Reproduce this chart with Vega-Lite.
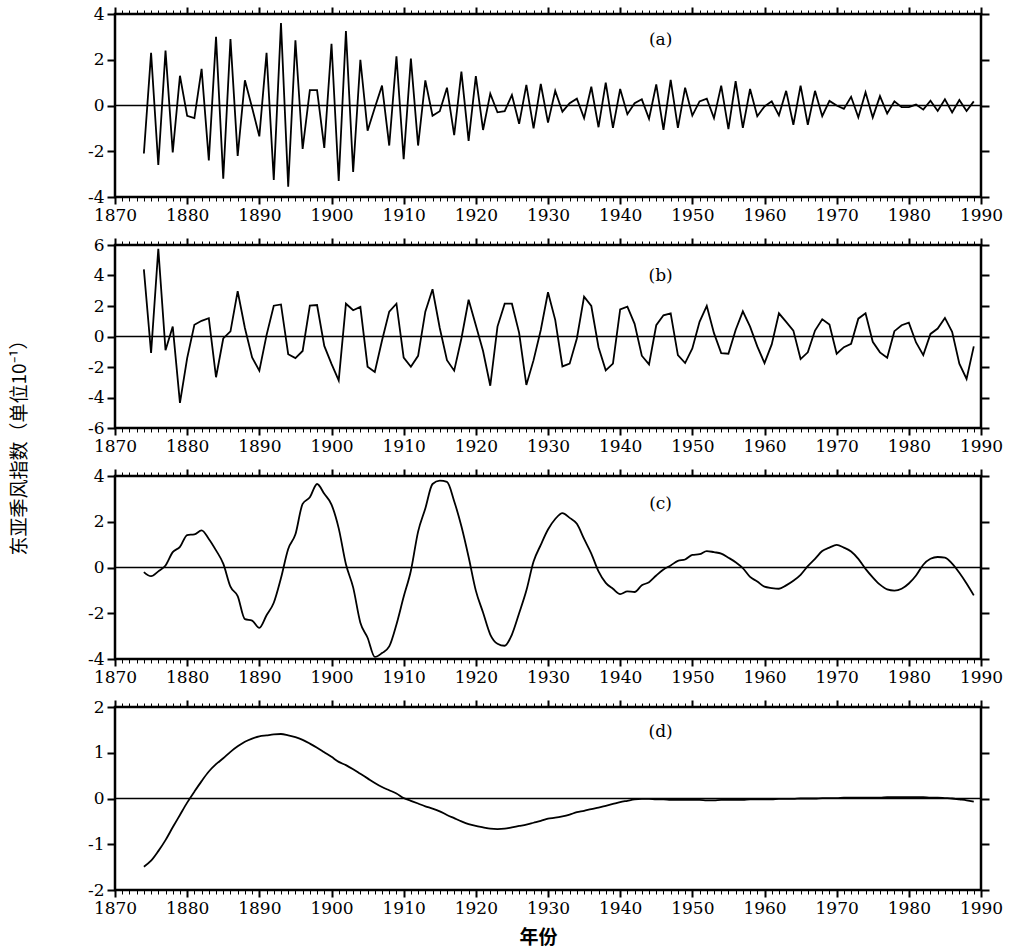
{
"$schema": "https://vega.github.io/schema/vega-lite/v6.json",
"padding": {"left": 11, "top": 3, "right": 5, "bottom": 5},
"background": "white",
"bounds": "flush",
"spacing": 48,
"title": {"text": "东亚季风指数（单位10⁻¹）", "orient": "left", "anchor": "middle", "font": "Noto Sans CJK SC", "fontSize": 19, "fontWeight": "normal", "color": "black", "offset": 56, "dx": 33},
"config": {
  "view": {"stroke": "black", "strokeWidth": 2.5},
  "axis": {"labelFont": "DejaVu Serif", "labelFontSize": 17, "labelColor": "black", "tickColor": "black", "domain": false, "grid": false, "ticks": true, "title": null, "labelFlush": false, "labelOverlap": false}
},
"datasets": {
"a": [
{"year":1874,"v":-2.1},{"year":1875,"v":2.3},{"year":1876,"v":-2.6},{"year":1877,"v":2.4},{"year":1878,"v":-2.05},{"year":1879,"v":1.3},{"year":1880,"v":-0.45},{"year":1881,"v":-0.55},{"year":1882,"v":1.6},{"year":1883,"v":-2.4},{"year":1884,"v":3.0},{"year":1885,"v":-3.2},{"year":1886,"v":2.9},{"year":1887,"v":-2.2},{"year":1888,"v":1.1},{"year":1889,"v":-0.1},{"year":1890,"v":-1.35},{"year":1891,"v":2.3},{"year":1892,"v":-3.25},{"year":1893,"v":3.6},{"year":1894,"v":-3.55},{"year":1895,"v":2.85},{"year":1896,"v":-1.9},{"year":1897,"v":0.67},{"year":1898,"v":0.67},{"year":1899,"v":-1.85},{"year":1900,"v":2.7},{"year":1901,"v":-3.3},{"year":1902,"v":3.25},{"year":1903,"v":-2.9},{"year":1904,"v":2.0},{"year":1905,"v":-1.1},{"year":1906,"v":-0.1},{"year":1907,"v":0.87},{"year":1908,"v":-1.75},{"year":1909,"v":2.15},{"year":1910,"v":-2.35},{"year":1911,"v":2.05},{"year":1912,"v":-1.75},{"year":1913,"v":1.1},{"year":1914,"v":-0.45},{"year":1915,"v":-0.25},{"year":1916,"v":0.78},{"year":1917,"v":-1.3},{"year":1918,"v":1.48},{"year":1919,"v":-1.55},{"year":1920,"v":1.28},{"year":1921,"v":-1.07},{"year":1922,"v":0.52},{"year":1923,"v":-0.3},{"year":1924,"v":-0.25},{"year":1925,"v":0.46},{"year":1926,"v":-0.8},{"year":1927,"v":0.9},{"year":1928,"v":-1.0},{"year":1929,"v":0.94},{"year":1930,"v":-0.75},{"year":1931,"v":0.64},{"year":1932,"v":-0.27},{"year":1933,"v":0.1},{"year":1934,"v":0.3},{"year":1935,"v":-0.55},{"year":1936,"v":0.82},{"year":1937,"v":-0.95},{"year":1938,"v":1.0},{"year":1939,"v":-0.98},{"year":1940,"v":0.72},{"year":1941,"v":-0.38},{"year":1942,"v":0.1},{"year":1943,"v":0.27},{"year":1944,"v":-0.58},{"year":1945,"v":0.92},{"year":1946,"v":-1.06},{"year":1947,"v":1.12},{"year":1948,"v":-0.98},{"year":1949,"v":0.78},{"year":1950,"v":-0.44},{"year":1951,"v":0.18},{"year":1952,"v":0.3},{"year":1953,"v":-0.55},{"year":1954,"v":0.87},{"year":1955,"v":-1.03},{"year":1956,"v":1.06},{"year":1957,"v":-0.98},{"year":1958,"v":0.72},{"year":1959,"v":-0.47},{"year":1960,"v":-0.04},{"year":1961,"v":0.18},{"year":1962,"v":-0.43},{"year":1963,"v":0.64},{"year":1964,"v":-0.84},{"year":1965,"v":0.87},{"year":1966,"v":-0.84},{"year":1967,"v":0.64},{"year":1968,"v":-0.47},{"year":1969,"v":0.2},{"year":1970,"v":0},{"year":1971,"v":-0.15},{"year":1972,"v":0.38},{"year":1973,"v":-0.52},{"year":1974,"v":0.58},{"year":1975,"v":-0.52},{"year":1976,"v":0.41},{"year":1977,"v":-0.35},{"year":1978,"v":0.18},{"year":1979,"v":-0.07},{"year":1980,"v":-0.07},{"year":1981,"v":0.04},{"year":1982,"v":-0.18},{"year":1983,"v":0.21},{"year":1984,"v":-0.24},{"year":1985,"v":0.27},{"year":1986,"v":-0.3},{"year":1987,"v":0.24},{"year":1988,"v":-0.24},{"year":1989,"v":0.18}
],
"b": [
{"year":1874,"v":4.4},{"year":1875,"v":-1.08},{"year":1876,"v":5.75},{"year":1877,"v":-0.9},{"year":1878,"v":0.65},{"year":1879,"v":-4.35},{"year":1880,"v":-1.42},{"year":1881,"v":0.77},{"year":1882,"v":1.03},{"year":1883,"v":1.2},{"year":1884,"v":-2.67},{"year":1885,"v":-0.13},{"year":1886,"v":0.34},{"year":1887,"v":2.97},{"year":1888,"v":0.56},{"year":1889,"v":-1.38},{"year":1890,"v":-2.24},{"year":1891,"v":0.09},{"year":1892,"v":2.02},{"year":1893,"v":2.1},{"year":1894,"v":-1.16},{"year":1895,"v":-1.42},{"year":1896,"v":-0.95},{"year":1897,"v":2.02},{"year":1898,"v":2.06},{"year":1899,"v":-0.62},{"year":1900,"v":-1.8},{"year":1901,"v":-2.88},{"year":1902,"v":2.15},{"year":1903,"v":1.72},{"year":1904,"v":1.94},{"year":1905,"v":-1.98},{"year":1906,"v":-2.32},{"year":1907,"v":-0.26},{"year":1908,"v":1.63},{"year":1909,"v":2.15},{"year":1910,"v":-1.38},{"year":1911,"v":-1.98},{"year":1912,"v":-1.27},{"year":1913,"v":1.63},{"year":1914,"v":3.1},{"year":1915,"v":0.56},{"year":1916,"v":-1.55},{"year":1917,"v":-2.24},{"year":1918,"v":-0.13},{"year":1919,"v":2.41},{"year":1920,"v":0.73},{"year":1921,"v":-0.95},{"year":1922,"v":-3.23},{"year":1923,"v":0.65},{"year":1924,"v":2.15},{"year":1925,"v":2.15},{"year":1926,"v":0.24},{"year":1927,"v":-3.18},{"year":1928,"v":-1.55},{"year":1929,"v":0.43},{"year":1930,"v":2.9},{"year":1931,"v":1.09},{"year":1932,"v":-1.96},{"year":1933,"v":-1.78},{"year":1934,"v":-0.13},{"year":1935,"v":2.61},{"year":1936,"v":2.0},{"year":1937,"v":-0.7},{"year":1938,"v":-2.22},{"year":1939,"v":-1.78},{"year":1940,"v":1.78},{"year":1941,"v":1.96},{"year":1942,"v":0.83},{"year":1943,"v":-1.26},{"year":1944,"v":-1.83},{"year":1945,"v":0.74},{"year":1946,"v":1.39},{"year":1947,"v":1.52},{"year":1948,"v":-1.22},{"year":1949,"v":-1.74},{"year":1950,"v":-0.78},{"year":1951,"v":0.96},{"year":1952,"v":2.0},{"year":1953,"v":0.22},{"year":1954,"v":-1.09},{"year":1955,"v":-1.13},{"year":1956,"v":0.43},{"year":1957,"v":1.65},{"year":1958,"v":0.65},{"year":1959,"v":-0.65},{"year":1960,"v":-1.74},{"year":1961,"v":-0.52},{"year":1962,"v":1.52},{"year":1963,"v":0.96},{"year":1964,"v":0.39},{"year":1965,"v":-1.48},{"year":1966,"v":-1.04},{"year":1967,"v":0.39},{"year":1968,"v":1.13},{"year":1969,"v":0.78},{"year":1970,"v":-1.13},{"year":1971,"v":-0.7},{"year":1972,"v":-0.48},{"year":1973,"v":1.17},{"year":1974,"v":1.52},{"year":1975,"v":-0.35},{"year":1976,"v":-1.04},{"year":1977,"v":-1.39},{"year":1978,"v":0.35},{"year":1979,"v":0.74},{"year":1980,"v":0.91},{"year":1981,"v":-0.39},{"year":1982,"v":-1.22},{"year":1983,"v":0.17},{"year":1984,"v":0.52},{"year":1985,"v":1.22},{"year":1986,"v":0.3},{"year":1987,"v":-1.78},{"year":1988,"v":-2.78},{"year":1989,"v":-0.65}
],
"c": [
{"year":1874,"v":-0.2},{"year":1875,"v":-0.38},{"year":1876,"v":-0.17},{"year":1877,"v":0.09},{"year":1878,"v":0.67},{"year":1879,"v":0.9},{"year":1880,"v":1.42},{"year":1881,"v":1.45},{"year":1882,"v":1.62},{"year":1883,"v":1.25},{"year":1884,"v":0.75},{"year":1885,"v":0.17},{"year":1886,"v":-0.84},{"year":1887,"v":-1.25},{"year":1888,"v":-2.26},{"year":1889,"v":-2.32},{"year":1890,"v":-2.64},{"year":1891,"v":-2.09},{"year":1892,"v":-1.54},{"year":1893,"v":-0.46},{"year":1894,"v":0.81},{"year":1895,"v":1.45},{"year":1896,"v":2.78},{"year":1897,"v":3.07},{"year":1898,"v":3.65},{"year":1899,"v":3.22},{"year":1900,"v":2.75},{"year":1901,"v":1.71},{"year":1902,"v":0.14},{"year":1903,"v":-0.87},{"year":1904,"v":-2.41},{"year":1905,"v":-3.07},{"year":1906,"v":-3.91},{"year":1907,"v":-3.74},{"year":1908,"v":-3.45},{"year":1909,"v":-2.49},{"year":1910,"v":-1.28},{"year":1911,"v":-0.14},{"year":1912,"v":1.57},{"year":1913,"v":2.58},{"year":1914,"v":3.65},{"year":1915,"v":3.8},{"year":1916,"v":3.74},{"year":1917,"v":2.9},{"year":1918,"v":1.8},{"year":1919,"v":0.46},{"year":1920,"v":-1.01},{"year":1921,"v":-1.97},{"year":1922,"v":-2.93},{"year":1923,"v":-3.33},{"year":1924,"v":-3.42},{"year":1925,"v":-2.93},{"year":1926,"v":-2.0},{"year":1927,"v":-1.01},{"year":1928,"v":0.26},{"year":1929,"v":0.99},{"year":1930,"v":1.66},{"year":1931,"v":2.12},{"year":1932,"v":2.38},{"year":1933,"v":2.17},{"year":1934,"v":1.91},{"year":1935,"v":1.25},{"year":1936,"v":0.61},{"year":1937,"v":-0.17},{"year":1938,"v":-0.67},{"year":1939,"v":-0.93},{"year":1940,"v":-1.16},{"year":1941,"v":-1.04},{"year":1942,"v":-1.07},{"year":1943,"v":-0.78},{"year":1944,"v":-0.64},{"year":1945,"v":-0.35},{"year":1946,"v":-0.09},{"year":1947,"v":0.09},{"year":1948,"v":0.29},{"year":1949,"v":0.35},{"year":1950,"v":0.55},{"year":1951,"v":0.58},{"year":1952,"v":0.72},{"year":1953,"v":0.67},{"year":1954,"v":0.61},{"year":1955,"v":0.43},{"year":1956,"v":0.23},{"year":1957,"v":-0.03},{"year":1958,"v":-0.41},{"year":1959,"v":-0.61},{"year":1960,"v":-0.84},{"year":1961,"v":-0.9},{"year":1962,"v":-0.93},{"year":1963,"v":-0.78},{"year":1964,"v":-0.58},{"year":1965,"v":-0.32},{"year":1966,"v":0.06},{"year":1967,"v":0.38},{"year":1968,"v":0.72},{"year":1969,"v":0.87},{"year":1970,"v":0.99},{"year":1971,"v":0.87},{"year":1972,"v":0.7},{"year":1973,"v":0.38},{"year":1974,"v":-0.06},{"year":1975,"v":-0.43},{"year":1976,"v":-0.75},{"year":1977,"v":-0.96},{"year":1978,"v":-1.01},{"year":1979,"v":-0.93},{"year":1980,"v":-0.7},{"year":1981,"v":-0.35},{"year":1982,"v":0.12},{"year":1983,"v":0.38},{"year":1984,"v":0.46},{"year":1985,"v":0.43},{"year":1986,"v":0.17},{"year":1987,"v":-0.23},{"year":1988,"v":-0.7},{"year":1989,"v":-1.22}
],
"d": [
{"year":1874,"v":-1.49},{"year":1875,"v":-1.36},{"year":1876,"v":-1.15},{"year":1877,"v":-0.91},{"year":1878,"v":-0.63},{"year":1879,"v":-0.36},{"year":1880,"v":-0.09},{"year":1881,"v":0.15},{"year":1882,"v":0.38},{"year":1883,"v":0.59},{"year":1884,"v":0.75},{"year":1885,"v":0.88},{"year":1886,"v":1.02},{"year":1887,"v":1.14},{"year":1888,"v":1.24},{"year":1889,"v":1.31},{"year":1890,"v":1.36},{"year":1891,"v":1.38},{"year":1892,"v":1.4},{"year":1893,"v":1.41},{"year":1894,"v":1.38},{"year":1895,"v":1.34},{"year":1896,"v":1.28},{"year":1897,"v":1.2},{"year":1898,"v":1.11},{"year":1899,"v":1.01},{"year":1900,"v":0.91},{"year":1901,"v":0.8},{"year":1902,"v":0.73},{"year":1903,"v":0.64},{"year":1904,"v":0.54},{"year":1905,"v":0.44},{"year":1906,"v":0.34},{"year":1907,"v":0.25},{"year":1908,"v":0.18},{"year":1909,"v":0.11},{"year":1910,"v":0.01},{"year":1911,"v":-0.05},{"year":1912,"v":-0.11},{"year":1913,"v":-0.17},{"year":1914,"v":-0.22},{"year":1915,"v":-0.28},{"year":1916,"v":-0.36},{"year":1917,"v":-0.43},{"year":1918,"v":-0.5},{"year":1919,"v":-0.56},{"year":1920,"v":-0.6},{"year":1921,"v":-0.63},{"year":1922,"v":-0.66},{"year":1923,"v":-0.67},{"year":1924,"v":-0.66},{"year":1925,"v":-0.63},{"year":1926,"v":-0.6},{"year":1927,"v":-0.57},{"year":1928,"v":-0.53},{"year":1929,"v":-0.49},{"year":1930,"v":-0.44},{"year":1931,"v":-0.42},{"year":1932,"v":-0.39},{"year":1933,"v":-0.35},{"year":1934,"v":-0.3},{"year":1935,"v":-0.27},{"year":1936,"v":-0.23},{"year":1937,"v":-0.2},{"year":1938,"v":-0.16},{"year":1939,"v":-0.12},{"year":1940,"v":-0.08},{"year":1941,"v":-0.05},{"year":1942,"v":-0.02},{"year":1943,"v":-0.01},{"year":1944,"v":-0.01},{"year":1945,"v":-0.02},{"year":1946,"v":-0.02},{"year":1947,"v":-0.03},{"year":1948,"v":-0.03},{"year":1949,"v":-0.03},{"year":1950,"v":-0.03},{"year":1951,"v":-0.03},{"year":1952,"v":-0.04},{"year":1953,"v":-0.04},{"year":1954,"v":-0.03},{"year":1955,"v":-0.03},{"year":1956,"v":-0.03},{"year":1957,"v":-0.03},{"year":1958,"v":-0.02},{"year":1959,"v":-0.02},{"year":1960,"v":-0.02},{"year":1961,"v":-0.02},{"year":1962,"v":-0.01},{"year":1963,"v":-0.01},{"year":1964,"v":-0.01},{"year":1965,"v":0},{"year":1966,"v":0},{"year":1967,"v":0},{"year":1968,"v":0.01},{"year":1969,"v":0.01},{"year":1970,"v":0.01},{"year":1971,"v":0.02},{"year":1972,"v":0.02},{"year":1973,"v":0.02},{"year":1974,"v":0.02},{"year":1975,"v":0.02},{"year":1976,"v":0.02},{"year":1977,"v":0.03},{"year":1978,"v":0.03},{"year":1979,"v":0.03},{"year":1980,"v":0.03},{"year":1981,"v":0.03},{"year":1982,"v":0.03},{"year":1983,"v":0.02},{"year":1984,"v":0.02},{"year":1985,"v":0.01},{"year":1986,"v":0},{"year":1987,"v":-0.02},{"year":1988,"v":-0.04},{"year":1989,"v":-0.07}
]
},
"vconcat": [
{
 "width": 866, "height": 183,
 "data": {"name": "a"},
 "resolve": {"axis": {"x": "independent", "y": "independent"}},
 "layer": [
  {"mark": {"type": "line", "color": "black", "strokeWidth": 1.8},
   "encoding": {
    "x": {"field": "year", "type": "quantitative", "scale": {"domain": [1870, 1990], "nice": false}, "axis": {"orient": "bottom", "tickCount": 120, "labelExpr": "datum.value % 10 === 0 ? '' + datum.value : ''", "labelPadding": 3, "tickSize": {"condition": {"test": "datum.value % 10 === 0", "value": 7}, "value": 4}, "tickWidth": {"condition": {"test": "datum.value % 10 === 0", "value": 2}, "value": 1}}},
    "y": {"field": "v", "type": "quantitative", "scale": {"domain": [-4, 4], "nice": false}, "axis": {"orient": "left", "values": [-4,-2,0,2,4], "tickSize": 8, "tickWidth": 2, "labelPadding": 3, "labelExpr": "'' + datum.value"}}}},
  {"mark": {"type": "line", "strokeOpacity": 0},
   "encoding": {
    "x": {"field": "year", "type": "quantitative", "scale": {"domain": [1870, 1990], "nice": false}, "axis": {"orient": "top", "tickCount": 120, "labels": false, "tickSize": {"condition": {"test": "datum.value % 10 === 0", "value": 7}, "value": 4}, "tickWidth": {"condition": {"test": "datum.value % 10 === 0", "value": 2}, "value": 1}}},
    "y": {"field": "v", "type": "quantitative", "scale": {"domain": [-4, 4], "nice": false}, "axis": {"orient": "right", "values": [-4,-2,0,2,4], "labels": false, "tickSize": 8, "tickWidth": 2}}}},
  {"data": {"values": [{}]}, "mark": {"type": "rule", "color": "black", "strokeWidth": 1.5},
   "encoding": {"y": {"datum": 0, "type": "quantitative", "scale": {"domain": [-4, 4], "nice": false}, "axis": null}}},
  {"data": {"values": [{}]}, "mark": {"type": "text", "font": "DejaVu Serif", "fontSize": 17, "color": "black"},
   "encoding": {"x": {"datum": 1945.6, "type": "quantitative", "scale": {"domain": [1870, 1990], "nice": false}, "axis": null}, "y": {"datum": 2.87, "type": "quantitative", "scale": {"domain": [-4, 4], "nice": false}, "axis": null}, "text": {"value": "(a)"}}}
 ]
},
{
 "width": 866, "height": 183,
 "data": {"name": "b"},
 "resolve": {"axis": {"x": "independent", "y": "independent"}},
 "layer": [
  {"mark": {"type": "line", "color": "black", "strokeWidth": 1.8},
   "encoding": {
    "x": {"field": "year", "type": "quantitative", "scale": {"domain": [1870, 1990], "nice": false}, "axis": {"orient": "bottom", "tickCount": 120, "labelExpr": "datum.value % 10 === 0 ? '' + datum.value : ''", "labelPadding": 3, "tickSize": {"condition": {"test": "datum.value % 10 === 0", "value": 7}, "value": 4}, "tickWidth": {"condition": {"test": "datum.value % 10 === 0", "value": 2}, "value": 1}}},
    "y": {"field": "v", "type": "quantitative", "scale": {"domain": [-6, 6], "nice": false}, "axis": {"orient": "left", "values": [-6,-4,-2,0,2,4,6], "tickSize": 8, "tickWidth": 2, "labelPadding": 3, "labelExpr": "'' + datum.value"}}}},
  {"mark": {"type": "line", "strokeOpacity": 0},
   "encoding": {
    "x": {"field": "year", "type": "quantitative", "scale": {"domain": [1870, 1990], "nice": false}, "axis": {"orient": "top", "tickCount": 120, "labels": false, "tickSize": {"condition": {"test": "datum.value % 10 === 0", "value": 7}, "value": 4}, "tickWidth": {"condition": {"test": "datum.value % 10 === 0", "value": 2}, "value": 1}}},
    "y": {"field": "v", "type": "quantitative", "scale": {"domain": [-6, 6], "nice": false}, "axis": {"orient": "right", "values": [-6,-4,-2,0,2,4,6], "labels": false, "tickSize": 8, "tickWidth": 2}}}},
  {"data": {"values": [{}]}, "mark": {"type": "rule", "color": "black", "strokeWidth": 1.5},
   "encoding": {"y": {"datum": 0, "type": "quantitative", "scale": {"domain": [-6, 6], "nice": false}, "axis": null}}},
  {"data": {"values": [{}]}, "mark": {"type": "text", "font": "DejaVu Serif", "fontSize": 17, "color": "black"},
   "encoding": {"x": {"datum": 1945.6, "type": "quantitative", "scale": {"domain": [1870, 1990], "nice": false}, "axis": null}, "y": {"datum": 4.0, "type": "quantitative", "scale": {"domain": [-6, 6], "nice": false}, "axis": null}, "text": {"value": "(b)"}}}
 ]
},
{
 "width": 866, "height": 183,
 "data": {"name": "c"},
 "resolve": {"axis": {"x": "independent", "y": "independent"}},
 "layer": [
  {"mark": {"type": "line", "color": "black", "strokeWidth": 1.8, "interpolate": "monotone"},
   "encoding": {
    "x": {"field": "year", "type": "quantitative", "scale": {"domain": [1870, 1990], "nice": false}, "axis": {"orient": "bottom", "tickCount": 120, "labelExpr": "datum.value % 10 === 0 ? '' + datum.value : ''", "labelPadding": 3, "tickSize": {"condition": {"test": "datum.value % 10 === 0", "value": 7}, "value": 4}, "tickWidth": {"condition": {"test": "datum.value % 10 === 0", "value": 2}, "value": 1}}},
    "y": {"field": "v", "type": "quantitative", "scale": {"domain": [-4, 4], "nice": false}, "axis": {"orient": "left", "values": [-4,-2,0,2,4], "tickSize": 8, "tickWidth": 2, "labelPadding": 3, "labelExpr": "'' + datum.value"}}}},
  {"mark": {"type": "line", "strokeOpacity": 0},
   "encoding": {
    "x": {"field": "year", "type": "quantitative", "scale": {"domain": [1870, 1990], "nice": false}, "axis": {"orient": "top", "tickCount": 120, "labels": false, "tickSize": {"condition": {"test": "datum.value % 10 === 0", "value": 7}, "value": 4}, "tickWidth": {"condition": {"test": "datum.value % 10 === 0", "value": 2}, "value": 1}}},
    "y": {"field": "v", "type": "quantitative", "scale": {"domain": [-4, 4], "nice": false}, "axis": {"orient": "right", "values": [-4,-2,0,2,4], "labels": false, "tickSize": 8, "tickWidth": 2}}}},
  {"data": {"values": [{}]}, "mark": {"type": "rule", "color": "black", "strokeWidth": 1.5},
   "encoding": {"y": {"datum": 0, "type": "quantitative", "scale": {"domain": [-4, 4], "nice": false}, "axis": null}}},
  {"data": {"values": [{}]}, "mark": {"type": "text", "font": "DejaVu Serif", "fontSize": 17, "color": "black"},
   "encoding": {"x": {"datum": 1945.6, "type": "quantitative", "scale": {"domain": [1870, 1990], "nice": false}, "axis": null}, "y": {"datum": 2.77, "type": "quantitative", "scale": {"domain": [-4, 4], "nice": false}, "axis": null}, "text": {"value": "(c)"}}}
 ]
},
{
 "width": 866, "height": 183,
 "data": {"name": "d"},
 "resolve": {"axis": {"x": "independent", "y": "independent"}},
 "layer": [
  {"mark": {"type": "line", "color": "black", "strokeWidth": 1.8, "interpolate": "monotone"},
   "encoding": {
    "x": {"field": "year", "type": "quantitative", "scale": {"domain": [1870, 1990], "nice": false}, "axis": {"orient": "bottom", "tickCount": 120, "labelExpr": "datum.value % 10 === 0 ? '' + datum.value : ''", "labelPadding": 3, "tickSize": {"condition": {"test": "datum.value % 10 === 0", "value": 7}, "value": 4}, "tickWidth": {"condition": {"test": "datum.value % 10 === 0", "value": 2}, "value": 1}, "title": "年份", "titleFont": "Noto Sans CJK SC", "titleFontSize": 19, "titleFontWeight": "bold", "titleColor": "black", "titlePadding": 12, "titleX": 423}},
    "y": {"field": "v", "type": "quantitative", "scale": {"domain": [-2, 2], "nice": false}, "axis": {"orient": "left", "values": [-2,-1,0,1,2], "tickSize": 8, "tickWidth": 2, "labelPadding": 3, "labelExpr": "'' + datum.value"}}}},
  {"mark": {"type": "line", "strokeOpacity": 0},
   "encoding": {
    "x": {"field": "year", "type": "quantitative", "scale": {"domain": [1870, 1990], "nice": false}, "axis": {"orient": "top", "tickCount": 120, "labels": false, "tickSize": {"condition": {"test": "datum.value % 10 === 0", "value": 7}, "value": 4}, "tickWidth": {"condition": {"test": "datum.value % 10 === 0", "value": 2}, "value": 1}}},
    "y": {"field": "v", "type": "quantitative", "scale": {"domain": [-2, 2], "nice": false}, "axis": {"orient": "right", "values": [-2,-1,0,1,2], "labels": false, "tickSize": 8, "tickWidth": 2}}}},
  {"data": {"values": [{}]}, "mark": {"type": "rule", "color": "black", "strokeWidth": 1.5},
   "encoding": {"y": {"datum": 0, "type": "quantitative", "scale": {"domain": [-2, 2], "nice": false}, "axis": null}}},
  {"data": {"values": [{}]}, "mark": {"type": "text", "font": "DejaVu Serif", "fontSize": 17, "color": "black"},
   "encoding": {"x": {"datum": 1945.6, "type": "quantitative", "scale": {"domain": [1870, 1990], "nice": false}, "axis": null}, "y": {"datum": 1.46, "type": "quantitative", "scale": {"domain": [-2, 2], "nice": false}, "axis": null}, "text": {"value": "(d)"}}}
 ]
}
]
}
